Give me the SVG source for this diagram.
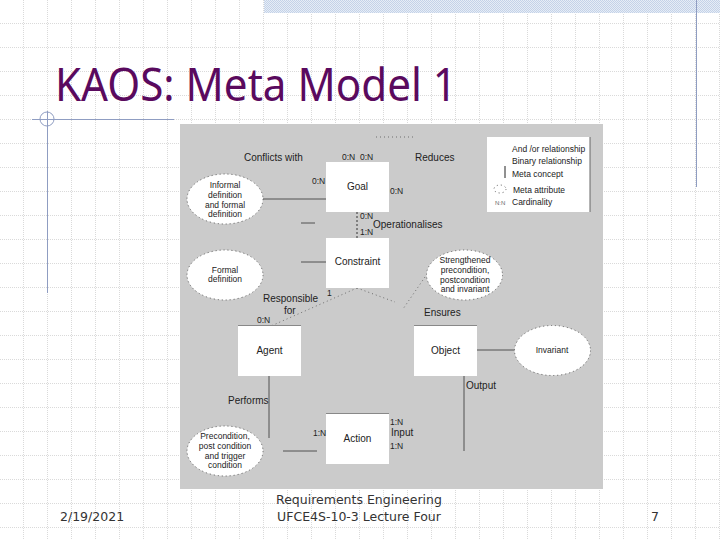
<svg xmlns="http://www.w3.org/2000/svg" width="720" height="540" viewBox="0 0 720 540">
<style>
text{font-family:"Liberation Sans",Arial,sans-serif;font-size:10px;fill:#222}
.c{text-anchor:middle}
.s{font-size:8.5px}
.box{fill:#fff}
.ell{fill:#fff;stroke:#555;stroke-width:0.8;stroke-dasharray:1.2 2.8}
.ln{stroke:#444;stroke-width:0.9;fill:none}
.dot{stroke:#555;stroke-width:0.8;fill:none;stroke-dasharray:1 3}
.top{stroke:#888;stroke-width:1}
.blue{stroke:#8f9dc2;stroke-width:1;fill:none}
.foot{font-family:"DejaVu Sans",sans-serif;font-size:12.5px;fill:#333}
</style>
<defs>
<pattern id="grid" width="24" height="24" patternUnits="userSpaceOnUse">
<path d="M0 23.5H24M23.5 0V24" stroke="#dadada" stroke-width="1" stroke-dasharray="1 1" fill="none"/>
</pattern>
<pattern id="band" width="2" height="2" patternUnits="userSpaceOnUse">
<rect width="2" height="2" fill="#e6edf6"/>
<rect width="1" height="1" fill="#c4d2e8"/>
<rect x="1" y="1" width="1" height="1" fill="#c4d2e8"/>
</pattern>
</defs>
<rect width="720" height="540" fill="#fff"/>
<rect width="720" height="540" fill="url(#grid)"/>
<rect x="264" y="0" width="456" height="13" fill="url(#band)"/>
<path class="blue" d="M696.500 0V187M47.500 111V293M32 119.500H174"/>
<circle class="blue" cx="47" cy="119" r="7"/>
<text x="55" y="101" textLength="402" lengthAdjust="spacingAndGlyphs" style="font-family:'Noto Sans',sans-serif;font-size:46px;fill:#5a0a5e">KAOS: Meta Model 1</text>
<rect x="180" y="124" width="423" height="365" fill="#cbcbcb"/>
<g id="legend">
<rect class="box" x="487" y="137" width="103" height="75"/>
<path d="M590 137V212" stroke="#666"/>
<path d="M505 166V178" stroke="#222"/>
<ellipse class="ell" cx="500" cy="189" rx="6" ry="4"/>
<text class="s" x="512" y="152">And /or relationship</text>
<text class="s" x="512" y="164">Binary relationship</text>
<text class="s" x="512" y="177">Meta concept</text>
<text class="s" x="513" y="193">Meta attribute</text>
<text class="s" x="512" y="205">Cardinality</text>
<text x="495" y="205" style="font-size:6px;fill:#666">N:N</text>
</g>
<g id="connectors">
<path class="ln" d="M263 199H326M301 223H315M301 262H326M269 376V438M283 451H317M477 350H515M464 376V451"/>
<path d="M357 212V238" stroke="#333" stroke-dasharray="2 2"/>
<path class="dot" d="M376 137H413M357 288L271 326M357 288L395 302M425 277L403 309"/>
</g>
<g id="goal"><rect class="box" x="326" y="162" width="63" height="50"/><text class="c" x="357.500" y="190">Goal</text></g>
<g id="constraint"><rect class="box" x="326" y="238" width="63" height="50"/><text class="c" x="357.500" y="265">Constraint</text></g>
<g id="agent"><rect class="box" x="238" y="326" width="63" height="50"/><path class="top" d="M238 325.500H301"/><text class="c" x="269.500" y="354">Agent</text></g>
<g id="object"><rect class="box" x="414" y="326" width="63" height="50"/><path class="top" d="M414 325.500H477"/><text class="c" x="445.500" y="354">Object</text></g>
<g id="action"><rect class="box" x="326" y="414" width="63" height="50"/><path class="top" d="M326 413.500H389"/><text class="c" x="357.500" y="442">Action</text></g>
<g id="informal"><ellipse class="ell" cx="225" cy="199" rx="38" ry="25"/>
<text class="c s" x="225" y="188">Informal</text><text class="c s" x="225" y="198">definition</text><text class="c s" x="225" y="208">and formal</text><text class="c s" x="225" y="217">definition</text></g>
<g id="formal"><ellipse class="ell" cx="225" cy="275" rx="38" ry="25"/>
<text class="c s" x="225" y="273">Formal</text><text class="c s" x="225" y="282">definition</text></g>
<g id="strengthened"><ellipse class="ell" cx="464.500" cy="275" rx="38" ry="25"/>
<text class="c s" x="465" y="263">Strengthened</text><text class="c s" x="465" y="273">precondition,</text><text class="c s" x="465" y="283">postcondition</text><text class="c s" x="465" y="292">and invariant</text></g>
<g id="invariant"><ellipse class="ell" cx="552.500" cy="350.500" rx="38" ry="25"/><text class="c s" x="552" y="353">Invariant</text></g>
<g id="precondition"><ellipse class="ell" cx="225" cy="451" rx="38" ry="25"/>
<text class="c s" x="225" y="439">Precondition,</text><text class="c s" x="225" y="449">post condition</text><text class="c s" x="225" y="459">and trigger</text><text class="c s" x="225" y="468">condition</text></g>
<g id="labels">
<text x="244" y="161">Conflicts with</text>
<text x="415" y="161">Reduces</text>
<text x="342" y="160" class="s">0:N</text><text x="360" y="160" class="s">0:N</text>
<text x="312" y="184" class="s">0:N</text><text x="390" y="194" class="s">0:N</text>
<text x="360" y="219" class="s">0:N</text><text x="360" y="235" class="s">1:N</text>
<text x="373" y="228">Operationalises</text>
<text x="263" y="302">Responsible</text><text x="284" y="314">for</text>
<text x="327" y="296" class="s">1</text>
<text x="257" y="323" class="s">0:N</text>
<text x="424" y="316">Ensures</text>
<text x="228" y="404">Performs</text>
<text x="466" y="389">Output</text>
<text x="313" y="436" class="s">1:N</text>
<text x="390" y="425" class="s">1:N</text><text x="391" y="436">Input</text><text x="390" y="449" class="s">1:N</text>
</g>
<g id="footer">
<text class="foot" x="60" y="521">2/19/2021</text>
<text class="foot c" x="359" y="504">Requirements Engineering</text>
<text class="foot c" x="359" y="521">UFCE4S-10-3 Lecture Four</text>
<text class="foot" x="651" y="521">7</text>
</g>
</svg>
